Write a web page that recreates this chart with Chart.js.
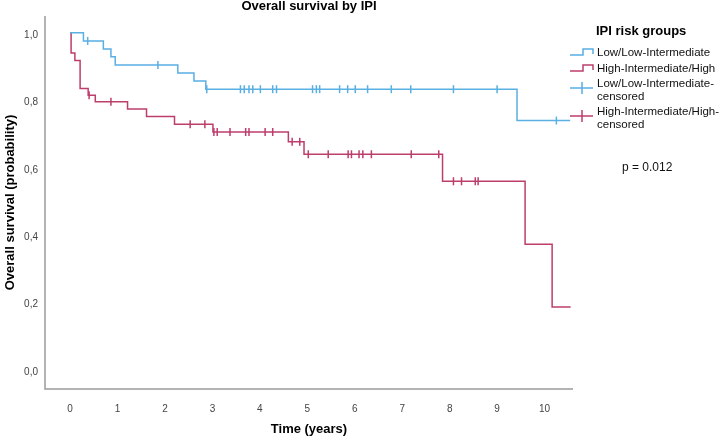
<!DOCTYPE html>
<html><head><meta charset="utf-8">
<script src="https://cdn.jsdelivr.net/npm/chart.js@4/dist/chart.umd.min.js"></script>
<style>html,body{margin:0;padding:0;background:#fff;overflow:hidden;}</style>
</head><body>
<canvas id="c" width="721" height="436"></canvas>
<script>
const chartTitle = 'Overall survival by IPI';
const xTitle = 'Time (years)';
const yTitle = 'Overall survival (probability)';
const legendTitle = 'IPI risk groups';
const seriesNames = ['Low/Low-Intermediate', 'High-Intermediate/High'];
const censoredNames = [['Low/Low-Intermediate-', 'censored'], ['High-Intermediate/High-', 'censored']];
const pText = 'p = 0.012';

const xTicks = [0, 1, 2, 3, 4, 5, 6, 7, 8, 9, 10];
const yTicks = [0, 0.2, 0.4, 0.6, 0.8, 1.0];

const lowTimes = [0, 0.28, 0.70, 0.86, 0.95, 2.27, 2.61, 2.86, 9.42, 10.54];
const lowSurv  = [1.0, 0.976, 0.952, 0.929, 0.905, 0.881, 0.857, 0.833, 0.74, 0.74];

const highTimes = [0, 0.02, 0.10, 0.21, 0.38, 0.53, 1.21, 1.61, 2.20, 3.01, 4.60, 4.93, 7.85, 9.59, 10.16, 10.55];
const highSurv  = [1.0, 0.94, 0.918, 0.835, 0.815, 0.796, 0.774, 0.752, 0.729, 0.706, 0.677, 0.64, 0.56, 0.373, 0.187, 0.187];

const lowCensTimes = [0.37, 1.85, 2.88, 3.59, 3.67, 3.77, 3.85, 4.01, 4.27, 4.35, 5.11, 5.19, 5.26, 5.68, 5.85, 6.01, 6.27, 6.77, 7.18, 8.08, 9.00, 10.25];
const lowCensSurv  = [0.976, 0.905, 0.833, 0.833, 0.833, 0.833, 0.833, 0.833, 0.833, 0.833, 0.833, 0.833, 0.833, 0.833, 0.833, 0.833, 0.833, 0.833, 0.833, 0.833, 0.833, 0.74];

const highCensTimes = [0.40, 0.86, 2.53, 2.84, 3.03, 3.10, 3.37, 3.70, 3.77, 4.11, 4.27, 4.68, 4.84, 5.02, 5.44, 5.86, 5.93, 6.09, 6.17, 6.35, 7.19, 7.77, 8.08, 8.25, 8.54, 8.60];
const highCensSurv  = [0.815, 0.796, 0.729, 0.729, 0.706, 0.706, 0.706, 0.706, 0.706, 0.706, 0.706, 0.677, 0.677, 0.64, 0.64, 0.64, 0.64, 0.64, 0.64, 0.64, 0.64, 0.64, 0.56, 0.56, 0.56, 0.56];

const blue = '#5aafe3';
const red = '#bd3e6b';
const FONT = "'Liberation Sans', Arial, sans-serif";

const pts = (xs, ys) => xs.map((x, i) => ({x: x, y: ys[i]}));

const overlay = {
  id: 'overlay',
  afterDraw(chart) {
    const ctx = chart.ctx;
    const a = chart.chartArea;
    ctx.save();
    // axis lines
    ctx.strokeStyle = '#9b9b9b';
    ctx.lineWidth = 1.5;
    ctx.beginPath();
    ctx.moveTo(a.left, a.top);
    ctx.lineTo(a.left, a.bottom);
    ctx.lineTo(a.right, a.bottom);
    ctx.stroke();
    // chart title
    ctx.fillStyle = '#000';
    ctx.font = 'bold 13px ' + FONT;
    ctx.textAlign = 'center';
    ctx.textBaseline = 'middle';
    ctx.fillText(chartTitle, (a.left + a.right) / 2, 6);
    // legend
    ctx.textAlign = 'left';
    ctx.font = 'bold 13px ' + FONT;
    ctx.fillText(legendTitle, 596, 31);
    ctx.font = '11.5px ' + FONT;
    ctx.fillStyle = '#111';
    const stepIcon = (y, col) => {
      ctx.strokeStyle = col; ctx.lineWidth = 1.5;
      ctx.beginPath();
      ctx.moveTo(570, y + 3); ctx.lineTo(583, y + 3); ctx.lineTo(583, y - 3);
      ctx.lineTo(593, y - 3); ctx.lineTo(593, y + 2);
      ctx.stroke();
    };
    const crossIcon = (y, col) => {
      ctx.strokeStyle = col; ctx.lineWidth = 1.5;
      ctx.beginPath();
      ctx.moveTo(570, y); ctx.lineTo(593, y);
      ctx.moveTo(582, y - 6); ctx.lineTo(582, y + 6);
      ctx.stroke();
    };
    stepIcon(52, blue); ctx.fillText(seriesNames[0], 597, 53);
    stepIcon(68, red); ctx.fillText(seriesNames[1], 597, 69);
    crossIcon(88, blue); ctx.fillText(censoredNames[0][0], 597, 84); ctx.fillText(censoredNames[0][1], 597, 97);
    crossIcon(116, red); ctx.fillText(censoredNames[1][0], 597, 112); ctx.fillText(censoredNames[1][1], 597, 125);
    // p value
    ctx.font = '12px ' + FONT;
    ctx.fillText(pText, 622, 168);
    ctx.restore();
  }
};

new Chart(document.getElementById('c'), {
  type: 'line',
  data: {
    datasets: [
      {label: seriesNames[0], data: pts(lowTimes, lowSurv), borderColor: blue, borderWidth: 1.5, stepped: true, pointRadius: 0, fill: false},
      {label: seriesNames[1], data: pts(highTimes, highSurv), borderColor: red, borderWidth: 1.5, stepped: true, pointRadius: 0, fill: false},
      {label: censoredNames[0].join(''), type: 'scatter', data: pts(lowCensTimes, lowCensSurv), showLine: false, pointStyle: 'line', rotation: 90, pointRadius: 4, borderColor: blue, borderWidth: 1.5, backgroundColor: blue},
      {label: censoredNames[1].join(''), type: 'scatter', data: pts(highCensTimes, highCensSurv), showLine: false, pointStyle: 'line', rotation: 90, pointRadius: 4, borderColor: red, borderWidth: 1.5, backgroundColor: red}
    ]
  },
  options: {
    responsive: false,
    animation: false,
    events: [],
    layout: {padding: {top: 16, right: 148, left: 0, bottom: 0}},
    plugins: {legend: {display: false}, title: {display: false}, tooltip: {enabled: false}},
    scales: {
      x: {
        type: 'linear', min: -0.53, max: 10.6,
        grid: {display: false, drawTicks: false},
        border: {display: false},
        afterBuildTicks: s => { s.ticks = xTicks.map(v => ({value: v})); },
        afterFit: s => { s.height = 47; },
        ticks: {padding: 14, color: '#444', font: {family: FONT, size: 10}, callback: v => String(v)},
        title: {display: true, text: xTitle, color: '#000', font: {family: FONT, size: 13, weight: 'bold', lineHeight: 1}, padding: {top: 0, bottom: 0}}
      },
      y: {
        type: 'linear', min: -0.056, max: 1.05,
        grid: {display: false, drawTicks: false},
        border: {display: false},
        afterBuildTicks: s => { s.ticks = yTicks.map(v => ({value: v})); },
        afterFit: s => { s.width = 45; },
        ticks: {padding: 7, labelOffset: 2, color: '#444', font: {family: FONT, size: 10}, callback: v => v.toFixed(1).replace('.', ',')},
        title: {display: true, text: yTitle, color: '#000', font: {family: FONT, size: 13, weight: 'bold', lineHeight: 1}, padding: {top: 4, bottom: 0}}
      }
    }
  },
  plugins: [overlay]
});
</script>
</body></html>
